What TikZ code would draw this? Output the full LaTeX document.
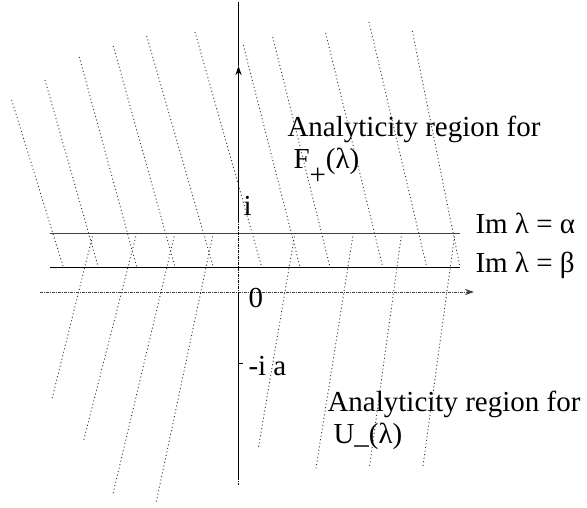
\documentclass[tikz,border=0pt]{standalone}
\usepackage{fontspec}
\setmainfont{Liberation Serif}
\usetikzlibrary{arrows.meta}
\begin{document}
\begin{tikzpicture}[x=1pt,y=-1pt,>={Stealth[length=9pt,width=6pt]},line width=1pt,
    hatch/.style={black!80,line width=.9pt,dash pattern=on 1pt off 2.6pt},
    lbl/.style={anchor=base west,inner sep=0pt,font=\fontsize{29}{32}\selectfont}]
  \useasboundingbox (0,0) rectangle (587,508);
  % upper hatching
  \draw[hatch] (11.7,100)--(63.3,267);
  \draw[hatch] (45,80)--(98.3,267);
  \draw[hatch] (79.3,57)--(136.7,267);
  \draw[hatch] (113.3,46)--(175,267);
  \draw[hatch] (146.7,36)--(213.3,267);
  \draw[hatch] (195,32)--(261.7,267);
  \draw[hatch] (243.3,45)--(300,267);
  \draw[hatch] (272.7,37)--(330,267);
  \draw[hatch] (325.7,33)--(382.7,267);
  \draw[hatch] (369,22)--(426.7,267);
  \draw[hatch] (412.3,31)--(460,267);
  % lower hatching
  \draw[hatch] (93.3,233)--(51.7,400);
  \draw[hatch] (136.7,233)--(83.3,441.7);
  \draw[hatch] (175,233)--(112.7,495);
  \draw[hatch] (213.3,233)--(156,503.3);
  \draw[hatch] (295,233)--(258.3,448.3);
  \draw[hatch] (353.3,233)--(316,468.3);
  \draw[hatch] (401.7,233)--(369.3,468.3);
  \draw[hatch] (455,233)--(422.7,468.3);
  % strip
  \draw[black!75,line width=1.3pt] (50,233.3)--(460,233.3);
  \draw (50,267.3)--(460,267.3);
  % axes
  \draw[->,black!75,densely dash dot] (40,292)--(474,292);
  \draw[->] (238.5,220)--(238.5,66);
  \draw (238.5,66)--(238.5,2);
  \draw[densely dash dot] (238.5,220)--(238.5,292);
  \draw (238.5,292)--(238.5,477);
  \draw[densely dash dot] (238.5,477)--(238.5,485);
  \draw[line width=.6pt] (238.5,363)--(243,363);
  % labels
  \node[lbl] (lbli) at (243,215) {i};
  \node[lbl] (lblzero) at (248,307) {0};
  \node[lbl] (lblmia) at (248,375) {-i a};
  \node[lbl] (lblalpha) at (475,233.3) {Im λ = α};
  \node[lbl] (lblbeta) at (475,272.7) {Im λ = β};
  \node[lbl] (lblupper) at (287,137) {Analyticity region for};
  \node[lbl] (lblfplus) at (293,168.3) {F\raisebox{-16pt}{+}(λ)};
  \node[lbl] (lbllower) at (327,411.7) {Analyticity region for};
  \node[lbl] (lblumin) at (333,443.3) {U\_(λ)};
\end{tikzpicture}
\end{document}
